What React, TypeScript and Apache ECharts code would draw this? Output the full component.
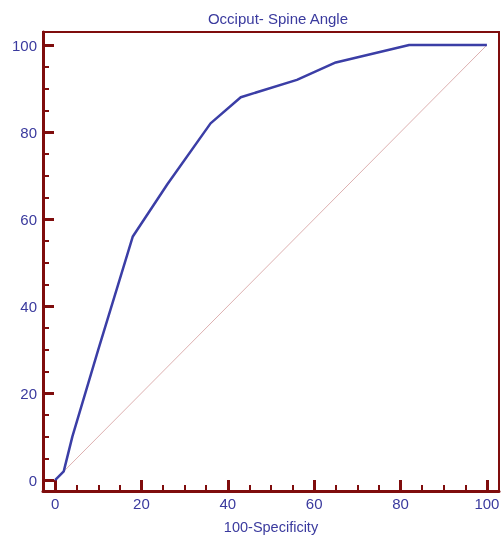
import React, { useEffect, useRef } from "react";
import * as echarts from "echarts";

const fprValues = [0, 2, 4, 10, 18, 26, 36, 43, 56, 65, 82, 100];
const tprValues = [0, 2, 10, 30, 56, 68, 82, 88, 92, 96, 100, 100];
const diagonal = [[0, 0], [100, 100]];
const majorTicks = [0, 20, 40, 60, 80, 100];
const minorTicks = [5, 10, 15, 25, 30, 35, 45, 50, 55, 65, 70, 75, 85, 90, 95];

const MAROON = "#7f0d0d";
const TEXT = "#3a3a9e";
const FONT = "Liberation Sans, Arial, sans-serif";

export default function App() {
  const ref = useRef<HTMLDivElement>(null);
  useEffect(() => {
    document.body.style.margin = "0";
    const chart = echarts.init(ref.current!, undefined, { renderer: "svg" });
    const axisBase = (min: number, max: number) => ({
      type: "value" as const,
      min,
      max,
      splitLine: { show: false },
    });
    chart.setOption({
      animation: false,
      title: {
        text: "Occiput- Spine Angle",
        left: 273,
        top: 6,
        textAlign: "center",
        textStyle: { color: TEXT, fontSize: 15, fontWeight: "normal", fontFamily: FONT },
      },
      grid: {
        left: 43,
        right: 4,
        top: 32,
        bottom: 45,
        outerBoundsMode: "none",
        containLabel: false,
        show: true,
        borderColor: MAROON,
        borderWidth: 2,
        backgroundColor: "#fff",
      },
      xAxis: [
        {
          ...axisBase(-2.8, 102.8),
          position: "bottom",
          name: "100-Specificity",
          nameLocation: "middle",
          nameGap: 28,
          nameTextStyle: { color: TEXT, fontSize: 14.5, fontFamily: FONT },
          axisLine: { show: true, onZero: false, lineStyle: { color: MAROON, width: 3 } },
          axisTick: {
            show: true,
            inside: true,
            length: 11,
            customValues: majorTicks,
            lineStyle: { color: MAROON, width: 3 },
          },
          axisLabel: {
            customValues: majorTicks,
            color: TEXT,
            fontSize: 15,
            fontFamily: FONT,
            margin: 5,
          },
        },
        {
          ...axisBase(-2.8, 102.8),
          position: "bottom",
          axisLine: { show: false, onZero: false },
          axisTick: {
            show: true,
            inside: true,
            length: 6,
            customValues: minorTicks,
            lineStyle: { color: MAROON, width: 2 },
          },
          axisLabel: { show: false },
        },
      ],
      yAxis: [
        {
          ...axisBase(-2.5, 103),
          position: "left",
          axisLine: { show: true, onZero: false, lineStyle: { color: MAROON, width: 3 } },
          axisTick: {
            show: true,
            inside: true,
            length: 11,
            customValues: majorTicks,
            lineStyle: { color: MAROON, width: 3 },
          },
          axisLabel: {
            customValues: majorTicks,
            color: TEXT,
            fontSize: 15,
            fontFamily: FONT,
            margin: 6,
          },
        },
        {
          ...axisBase(-2.5, 103),
          position: "left",
          axisLine: { show: false, onZero: false },
          axisTick: {
            show: true,
            inside: true,
            length: 6,
            customValues: minorTicks,
            lineStyle: { color: MAROON, width: 2 },
          },
          axisLabel: { show: false },
        },
      ],
      series: [
        {
          type: "line",
          xAxisIndex: 0,
          yAxisIndex: 0,
          data: diagonal,
          symbol: "none",
          lineStyle: { color: "#ddb0b0", width: 1 },
          z: 2,
        },
        {
          type: "line",
          xAxisIndex: 0,
          yAxisIndex: 0,
          data: fprValues.map((x, i) => [x, tprValues[i]]),
          symbol: "none",
          lineStyle: { color: "#3b3ea6", width: 2.5 },
          z: 3,
        },
      ],
    });
    return () => chart.dispose();
  }, []);
  return (
    <div
      ref={ref}
      style={{ position: "fixed", left: 0, top: 0, width: 503, height: 536 }}
    />
  );
}
